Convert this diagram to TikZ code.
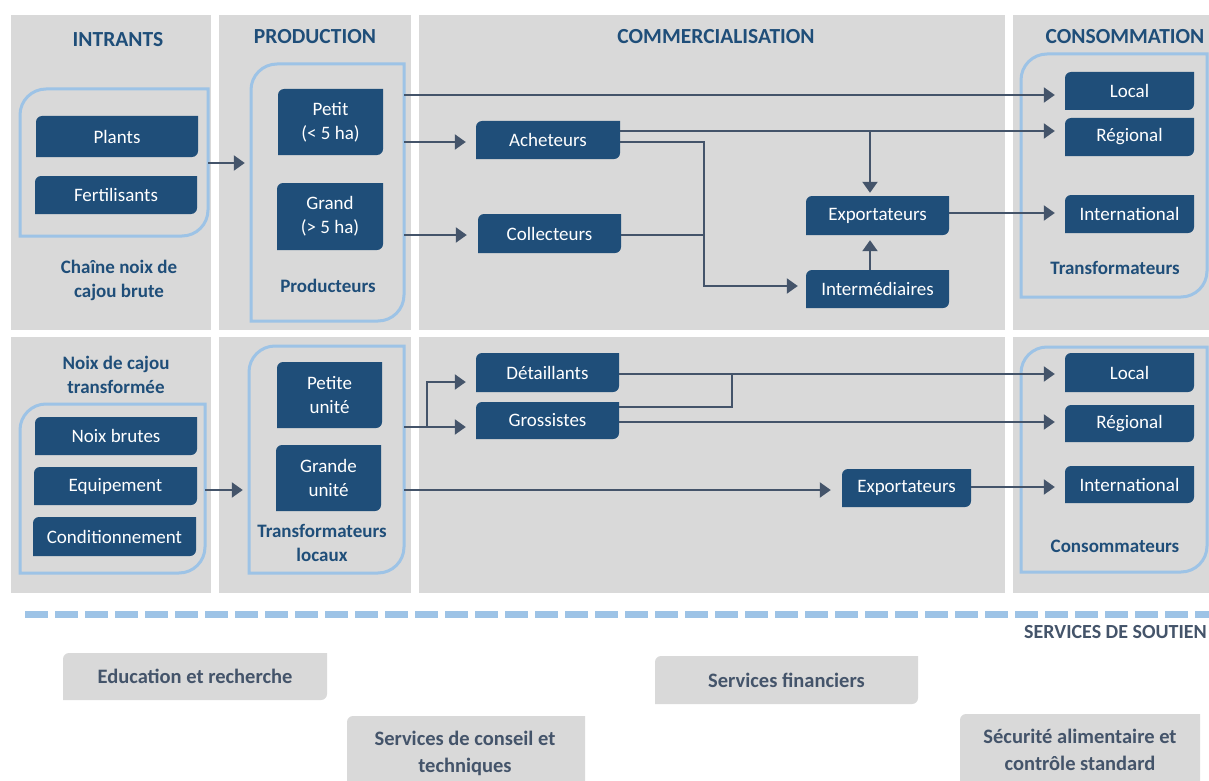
\documentclass[tikz,border=0pt]{standalone}
\usepackage{fontspec}
\setmainfont{Carlito}
\usetikzlibrary{arrows.meta}
\definecolor{dblue}{HTML}{1F4E79}
\definecolor{lblue}{HTML}{9DC3E6}
\definecolor{panel}{HTML}{D9D9D9}
\definecolor{slate}{HTML}{44546A}
% path with rounded top-left and bottom-right corners: x1 y1 x2 y2 r (y grows downward)
\newcommand\rrpath[5]{({#1},{#4}) -- ({#1},{#2+#5}) .. controls ({#1},{#2+0.4477*#5}) and ({#1+0.4477*#5},{#2}) .. ({#1+#5},{#2}) -- ({#3},{#2}) -- ({#3},{#4-#5}) .. controls ({#3},{#4-0.4477*#5}) and ({#3-0.4477*#5},{#4}) .. ({#3-#5},{#4}) -- cycle}
\newcommand\bx[7]{%
  \fill[#1fill] \rrpath{#3}{#4}{#5}{#6}{6};
  \node[#1text, minimum width={#5-#3}, minimum height={#6-#4}] (#2) at ({(#3+#5)/2},{(#4+#6)/2}) {#7};}
\newcommand\grp[5]{%
  \draw[grpline] \rrpath{#2}{#3}{#4}{#5}{26};
  \node[inner sep=0pt, minimum width={#4-#2}, minimum height={#5-#3}] (#1) at ({(#2+#4)/2},{(#3+#5)/2}) {};}
\tikzset{
  dboxfill/.style={fill=dblue},
  dboxtext/.style={text=white, font=\fontsize{19}{24}\selectfont, align=center, inner sep=0pt},
  sboxfill/.style={fill=panel},
  sboxtext/.style={text=slate, font=\fontsize{20.5}{27}\selectfont\bfseries, align=center, inner sep=0pt},
  grpline/.style={draw=lblue, line width=3pt},
  title/.style={text=dblue, font=\fontsize{21.5}{24}\selectfont\bfseries, inner sep=0pt},
  lbl/.style={text=dblue, font=\fontsize{19}{24}\selectfont\bfseries, align=center, inner sep=0pt},
  arr/.style={draw=slate, line width=2.2pt, -{Triangle[length=11pt,width=15pt]}},
  ln/.style={draw=slate, line width=2.2pt},
}
\begin{document}
\begin{tikzpicture}[x=1pt,y=-1pt]
\useasboundingbox (0,0) rectangle (1209,781);
\clip (0,0) rectangle (1209,781);
% panels
\fill[panel] (11,15) rectangle (211,330);
\fill[panel] (219,15) rectangle (411,330);
\fill[panel] (419,15) rectangle (1005,330);
\fill[panel] (1013,15) rectangle (1209,330);
\fill[panel] (11,337) rectangle (211,593);
\fill[panel] (219,337) rectangle (411,593);
\fill[panel] (419,337) rectangle (1005,593);
\fill[panel] (1013,337) rectangle (1209,593);
% titles
\node[title] (tin) at (118,40) {INTRANTS};
\node[title] (tpr) at (315,37) {PRODUCTION};
\node[title] (tcm) at (716,37) {COMMERCIALISATION};
\node[title] (tco) at (1125,37) {CONSOMMATION};
% groups
\grp{gin}{20}{89}{208}{236}
\grp{gpr}{251}{64}{404}{321}
\grp{gco}{1021}{54}{1207}{297}
\grp{gin2}{20}{404}{205}{573}
\grp{gpr2}{249}{346}{404}{573}
\grp{gco2}{1021}{347}{1207}{572}
% group labels
\node[lbl] (lch) at (119,280) {Chaîne noix de\\cajou brute};
\node[lbl] (lpr) at (328,286) {Producteurs};
\node[lbl] (ltr) at (1115,268) {Transformateurs};
\node[lbl] (lnc) at (116,375) {Noix de cajou\\transformée};
\node[lbl] (ltl) at (322,543) {Transformateurs\\locaux};
\node[lbl] (lcs) at (1115,546) {Consommateurs};
% boxes top
\bx{dbox}{plants}{36}{116}{198}{157}{Plants}
\bx{dbox}{fert}{35}{176}{197}{214}{Fertilisants}
\bx{dbox}{petit}{278}{89}{383}{155}{Petit\\(< 5 ha)}
\bx{dbox}{grand}{277}{183}{383}{250}{Grand\\(> 5 ha)}
\bx{dbox}{ach}{476}{121}{620}{159}{Acheteurs}
\bx{dbox}{col}{478}{214}{621}{253}{Collecteurs}
\bx{dbox}{exp}{806}{196}{949}{235}{Exportateurs}
\bx{dbox}{int}{806}{270}{949}{308}{Intermédiaires}
\bx{dbox}{loc}{1065}{72}{1194}{110}{Local}
\bx{dbox}{reg}{1065}{118}{1194}{156}{Régional}
\bx{dbox}{intl}{1065}{195}{1194}{233}{International}
% boxes bottom
\bx{dbox}{nb}{35}{417}{197}{455}{Noix brutes}
\bx{dbox}{eq}{34}{467}{197}{505}{Equipement}
\bx{dbox}{cond}{33}{517}{196}{556}{Conditionnement}
\bx{dbox}{pu}{277}{362}{382}{428}{Petite\\unité}
\bx{dbox}{gu}{276}{445}{381}{511}{Grande\\unité}
\bx{dbox}{det}{476}{353}{619}{392}{Détaillants}
\bx{dbox}{gro}{476}{402}{619}{439}{Grossistes}
\bx{dbox}{exp2}{842}{469}{971}{507}{Exportateurs}
\bx{dbox}{loc2}{1065}{353}{1194}{392}{Local}
\bx{dbox}{reg2}{1065}{405}{1194}{442}{Régional}
\bx{dbox}{intl2}{1065}{466}{1194}{503}{International}
% junctions
\coordinate (j1) at (870,131);
\coordinate (j2) at (704,142);
\coordinate (j3) at (704,286);
\coordinate (j4) at (427,427);
\coordinate (j5) at (427,382);
\coordinate (j6) at (732,407);
\coordinate (j7) at (732,374);
% connectors top
\draw[arr, shorten >=6pt] (gin.east |- 0,163) -- (gpr.west |- 0,163);
\draw[arr, shorten >=10pt] (gpr.east |- 0,95) -- (loc.west |- 0,95);
\draw[arr, shorten >=10pt] (gpr.east |- 0,142) -- (ach.west |- 0,142);
\draw[arr, shorten >=11pt] (gpr.east |- 0,235) -- (col.west |- 0,235);
\draw[arr, shorten >=10pt] (ach.east |- j1) -- (reg.west |- j1);
\draw[arr, shorten >=3pt] (j1) -- (exp.north -| j1);
\draw[arr, shorten >=8pt] (ach.east |- j2) -- (j2) -- (j3) -- (int.west |- j3);
\draw[ln] (col.east |- 0,235) -- (j2 |- 0,235);
\draw[arr, shorten >=5pt] (int.north -| j1) -- (exp.south -| j1);
\draw[arr, shorten >=10pt] (exp.east |- 0,213) -- (intl.west |- 0,213);
% connectors bottom
\draw[arr, shorten >=6pt] (gin2.east |- 0,490) -- (gpr2.west |- 0,490);
\draw[arr, shorten >=10pt] (gpr2.east |- j4) -- (j4) -- (j5) -- (det.west |- j5);
\draw[arr, shorten >=10pt] (j4) -- (gro.west |- j4);
\draw[arr, shorten >=10pt] (det.east |- j7) -- (loc2.west |- j7);
\draw[ln] (gro.east |- j6) -- (j6) -- (j7);
\draw[arr, shorten >=10pt] (gro.east |- 0,422) -- (reg2.west |- 0,422);
\draw[arr, shorten >=11pt] (gpr2.east |- 0,490) -- (exp2.west |- 0,490);
\draw[arr, shorten >=10pt] (exp2.east |- 0,487) -- (intl2.west |- 0,487);
% support services
\coordinate (d1) at (25,614);
\coordinate (d2) at (1209,614);
\draw[draw=lblue, line width=7pt, dash pattern=on 23pt off 7pt] (d1) -- (d2);
\node[text=slate, font=\fontsize{20}{22}\selectfont\bfseries, anchor=east, inner sep=0pt] (ss) at (1207,632) {SERVICES DE SOUTIEN};
\bx{sbox}{edu}{63}{653}{327}{700}{Education et recherche}
\bx{sbox}{fin}{655}{656}{918}{704}{Services financiers}
\bx{sbox}{cons}{347}{716}{585}{795}{}
\bx{sbox}{sec}{960}{714}{1200}{795}{}
\node[sboxtext] (consT) at (465,753) {Services de conseil et\\techniques};
\node[sboxtext] (secT) at (1080,750) {Sécurité alimentaire et\\contrôle standard};
\end{tikzpicture}
\end{document}
